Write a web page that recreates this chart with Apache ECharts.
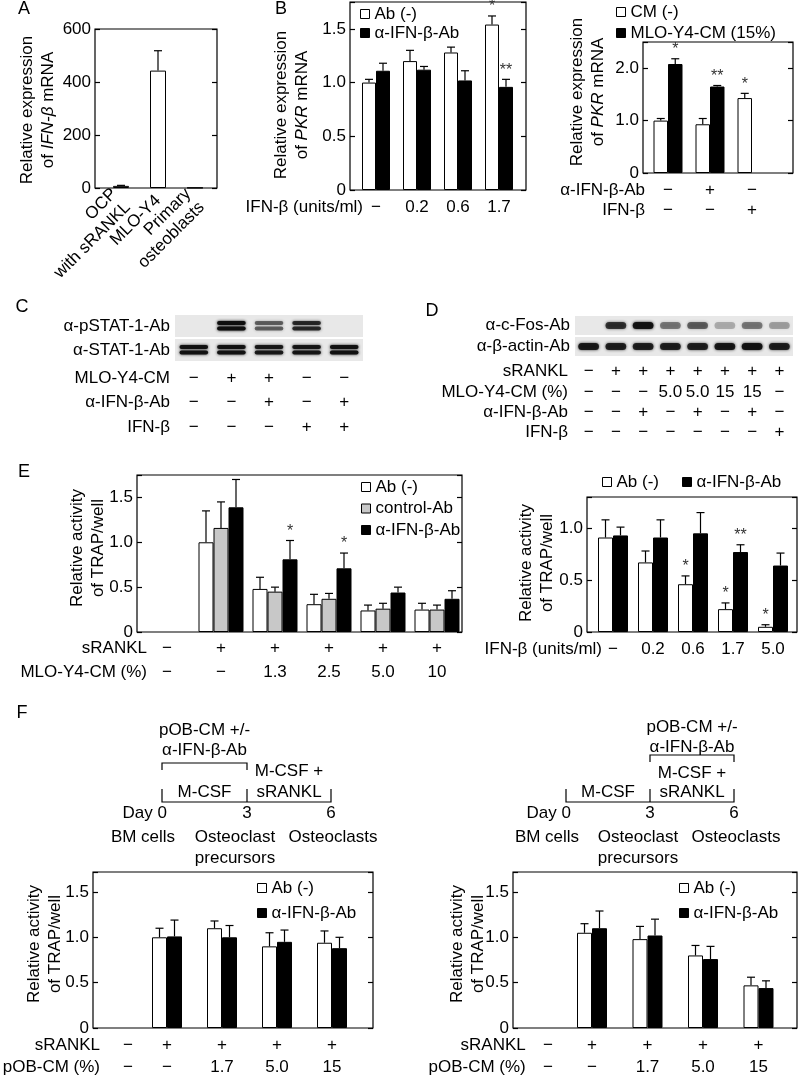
<!DOCTYPE html>
<html>
<head>
<meta charset="utf-8">
<script src="https://cdn.jsdelivr.net/npm/echarts@6/dist/echarts.min.js"></script>
<style>html,body{margin:0;background:#fff}#fig{width:800px;height:1077px}</style>
</head>
<body>
<div id="fig"></div>
<script>
const FONT = '"Liberation Sans", Arial, Helvetica, sans-serif';
const FS = 17;

// ---- A: IFN-beta mRNA per cell type
const aCells = ['OCP\nwith sRANKL', 'MLO-Y4', 'Primary\nosteoblasts'];
const aIfnb = [8, 443, 1];
const aIfnbErr = [10, 518, null];

// ---- B left: PKR vs IFN-beta dose
const bDose = ['−', '0.2', '0.6', '1.7'];
const bAbNeg = [1.00, 1.20, 1.28, 1.54];
const bAbNegErr = [1.03, 1.30, 1.33, 1.62];
const bAbNegStar = ['', '', '', '*'];
const bAnti = [1.11, 1.12, 1.02, 0.96];
const bAntiErr = [1.18, 1.15, 1.11, 1.03];
const bAntiStar = ['', '', '', '**'];

// ---- B right: PKR with MLO-Y4-CM
const bcAntiAb = ['−', '+', '−'];
const bcIfnb = ['−', '−', '+'];
const bcCmNeg = [1.00, 0.93, 1.43];
const bcCmNegErr = [1.04, 1.04, 1.52];
const bcCmNegStar = ['', '', '*'];
const bcMlo = [2.08, 1.65, null];
const bcMloErr = [2.18, 1.67, null];
const bcMloStar = ['*', '**', ''];

// ---- C: blot (band intensity per lane)
const cRows = ['α-pSTAT-1-Ab', 'α-STAT-1-Ab'];
const cPstat = [0, 1.0, 0.55, 0.8, 0];
const cStat = [0.95, 0.95, 0.9, 0.92, 0.97];
const cMlo = ['−', '+', '+', '−', '−'];
const cAntiAb = ['−', '−', '+', '−', '+'];
const cIfnb = ['−', '−', '−', '+', '+'];

// ---- D: blot
const dRows = ['α-c-Fos-Ab', 'α-β-actin-Ab'];
const dCfos = [0, 0.75, 0.95, 0.45, 0.55, 0.25, 0.45, 0.3];
const dActin = [0.9, 0.85, 0.85, 0.85, 0.85, 0.9, 0.95, 0.85];
const dRankl = ['−', '+', '+', '+', '+', '+', '+', '+'];
const dMlo = ['−', '−', '−', '5.0', '5.0', '15', '15', '−'];
const dAntiAb = ['−', '−', '+', '−', '+', '−', '+', '−'];
const dIfnb = ['−', '−', '−', '−', '−', '−', '−', '+'];

// ---- E left: TRAP with MLO-Y4-CM
const eRankl = ['−', '+', '+', '+', '+', '+'];
const eMlo = ['−', '−', '1.3', '2.5', '5.0', '10'];
const eAbNeg = [null, 1.00, 0.48, 0.31, 0.24, 0.25];
const eAbNegErr = [null, 1.35, 0.61, 0.42, 0.30, 0.32];
const eCtrl = [null, 1.16, 0.45, 0.37, 0.26, 0.25];
const eCtrlErr = [null, 1.45, 0.50, 0.43, 0.32, 0.30];
const eAnti = [null, 1.39, 0.81, 0.71, 0.44, 0.37];
const eAntiErr = [null, 1.70, 1.02, 0.88, 0.50, 0.46];
const eAntiStar = ['', '', '*', '*', '', ''];

// ---- E right: TRAP vs IFN-beta dose
const erDose = ['−', '0.2', '0.6', '1.7', '5.0'];
const erAbNeg = [0.91, 0.67, 0.46, 0.22, 0.05];
const erAbNegErr = [1.08, 0.78, 0.54, 0.28, 0.07];
const erAbNegStar = ['', '', '*', '*', '*'];
const erAnti = [0.93, 0.91, 0.95, 0.77, 0.64];
const erAntiErr = [1.01, 1.08, 1.15, 0.84, 0.76];
const erAntiStar = ['', '', '', '**', ''];

// ---- F: TRAP with pOB-CM
const fRankl = ['−', '+', '+', '+', '+'];
const fPob = ['−', '−', '1.7', '5.0', '15'];
const f1AbNeg = [null, 1.00, 1.10, 0.90, 0.94];
const f1AbNegErr = [null, 1.10, 1.18, 1.05, 1.07];
const f1Anti = [null, 1.01, 1.00, 0.95, 0.88];
const f1AntiErr = [null, 1.19, 1.13, 1.08, 1.00];
const f2AbNeg = [null, 1.05, 0.98, 0.80, 0.47];
const f2AbNegErr = [null, 1.15, 1.12, 0.91, 0.56];
const f2Anti = [null, 1.10, 1.02, 0.76, 0.44];
const f2AntiErr = [null, 1.29, 1.20, 0.90, 0.52];

const WHITE = '#ffffff', GREY = '#c8c8c8', BLACK = '#000000';
const txt = { fontFamily: FONT, fontSize: FS, color: '#000' };

const option = {
  animation: false,
  textStyle: { fontFamily: FONT, fontSize: FS, color: '#000' },
  grid: [], xAxis: [], yAxis: [], series: [], legend: [], graphic: []
};

// frame with y ticks (left labels, ticks inside both sides)
function addFrame(f) {
  const gi = option.grid.length;
  option.grid.push({ left: f.left, top: f.top, width: f.width, height: f.height, show: true,
    borderColor: '#000', borderWidth: 1.2, backgroundColor: 'rgba(0,0,0,0)', outerBoundsMode: 'none' });
  option.xAxis.push({ gridIndex: gi, type: 'value', show: false, min: 0, max: 1 });
  const fmt = f.fmt || (v => v === 0 ? '0' : v.toFixed(1));
  const y = {
    gridIndex: gi, type: 'value', min: 0, max: f.max, interval: f.step,
    axisLine: { show: false }, splitLine: { show: false },
    axisTick: { show: true, inside: true, length: 5, lineStyle: { color: '#000', width: 1.2 } }
  };
  option.yAxis.push({ ...y, position: 'left',
    axisLabel: { ...txt, margin: 4,
      formatter: v => Math.abs(v / f.step - Math.round(v / f.step)) > 1e-6 ? '' : fmt(v) } });
  option.yAxis.push({ ...y, position: 'right', axisLabel: { show: false } });
}

function errorBar(params, api, off, stars) {
  const v = api.value(1), e = api.value(2);
  if (isNaN(v) || isNaN(e)) return null;
  const base = api.coord([api.value(0), v]);
  const top = api.coord([api.value(0), e]);
  const x = base[0] + off;
  const children = [
    { type: 'line', shape: { x1: x, y1: base[1], x2: x, y2: top[1] }, style: { stroke: '#000', lineWidth: 1.2 } },
    { type: 'line', shape: { x1: x - 4, y1: top[1], x2: x + 4, y2: top[1] }, style: { stroke: '#000', lineWidth: 1.2 } }
  ];
  const star = stars && stars[params.dataIndex];
  if (star) {
    children.push({ type: 'text', x: x, y: top[1] - 1,
      style: { text: star, fontFamily: FONT, fontSize: 16, fill: '#333', align: 'center', verticalAlign: 'bottom' } });
  }
  return { type: 'group', children };
}

function addRows(gi, rows, nameGap, firstShift) {
  rows.forEach(r => option.xAxis.push({
    gridIndex: gi, type: 'category', data: r.labels, position: 'bottom', offset: r.offset,
    axisLine: { show: false, onZero: false }, axisTick: { show: false }, splitLine: { show: false },
    axisLabel: { ...txt, margin: 0, verticalAlign: 'middle', interval: 0,
      formatter: (v, i) => (i === 0 && firstShift ? '{s|' + v + '}' : v),
      rich: { s: { ...txt, padding: [0, 0, 0, 2 * (firstShift || 0)] } } },
    name: r.title, nameLocation: 'start', nameGap: nameGap,
    nameTextStyle: { ...txt, align: 'right', verticalAlign: 'middle' }
  }));
}

function addBars(c) {
  const gi = option.grid.length;
  option.grid.push({ left: c.left, top: c.top, width: c.width, height: c.height, outerBoundsMode: 'none' });
  const xi = option.xAxis.length;
  option.xAxis.push({ gridIndex: gi, type: 'category', data: c.cats,
    axisLine: { show: false, onZero: false }, axisTick: { show: false }, splitLine: { show: false },
    axisLabel: c.catLabel ? { ...txt, ...c.catLabel } : { show: false } });
  addRows(gi, c.rows || [], c.nameGap, c.firstShift);
  const yi = option.yAxis.length;
  option.yAxis.push({ gridIndex: gi, type: 'value', min: 0, max: c.max, show: false, splitLine: { show: false } });
  const n = c.series.length;
  c.series.forEach((s, k) => {
    option.series.push({ type: 'bar', name: s.name, xAxisIndex: xi, yAxisIndex: yi, data: s.values,
      barWidth: c.barWidth, barGap: '0%', silent: true,
      itemStyle: { color: s.color, borderColor: '#000', borderWidth: 1 } });
    const off = (k - (n - 1) / 2) * c.barWidth;
    option.series.push({ type: 'custom', name: s.name + ' SEM', xAxisIndex: xi, yAxisIndex: yi, z: 3, silent: true,
      data: s.values.map((v, i) => [i, v, s.err[i]]),
      renderItem: (params, api) => errorBar(params, api, off, s.stars) });
  });
}

function band(api, doublet) {
  const k = api.value(2);
  if (!(k > 0.02)) return null;
  const c = api.coord([api.value(0), api.value(1)]);
  const sz = api.size([0, 0]);
  const w = sz[0] * 0.76;
  const fill = 'rgba(15,15,15,' + Math.min(1, k) + ')';
  const rect = (y, h) => ({ type: 'rect', shape: { x: c[0] - w / 2, y: y, width: w, height: h, r: h / 2 },
    style: { fill: fill, shadowBlur: 3, shadowColor: fill } });
  return { type: 'group', children: doublet
    ? [rect(c[1] - 5, 4), rect(c[1] + 0.5, 4)]
    : [rect(c[1] - 3.5, 7)] };
}

function addBlot(b) {
  const gi = option.grid.length;
  option.grid.push({ left: b.left, top: b.top, width: b.width, height: b.height, outerBoundsMode: 'none' });
  const xi = option.xAxis.length;
  option.xAxis.push({ gridIndex: gi, type: 'category', data: b.bands[0].map((v, i) => i), show: false });
  addRows(gi, b.rows, b.nameGap);
  const yi = option.yAxis.length;
  option.yAxis.push({ gridIndex: gi, type: 'category', data: b.names, inverse: true,
    axisLine: { show: false }, axisTick: { show: false }, splitLine: { show: false },
    axisLabel: { ...txt, margin: 5, interval: 0 } });
  option.series.push({ type: 'custom', xAxisIndex: xi, yAxisIndex: yi, silent: true, z: 1,
    data: b.names.map((r, j) => [0, j]),
    renderItem: (params, api) => {
      const cs = params.coordSys;
      const cy = api.coord([0, api.value(1)])[1];
      const h = api.size([0, 0])[1];
      return { type: 'rect', shape: { x: cs.x, y: cy - h / 2 + 1, width: cs.width, height: h - 2 },
        style: { fill: '#e8e8e8' } };
    } });
  b.bands.forEach((vals, j) => option.series.push({
    type: 'custom', xAxisIndex: xi, yAxisIndex: yi, silent: true, z: 3,
    data: vals.map((k, i) => [i, j, k]),
    renderItem: (params, api) => band(api, b.doublet[j]) }));
}

function addLegend(left, top, names, orient, gap) {
  option.legend.push({ left, top, orient, itemGap: gap, itemWidth: 9, itemHeight: 9, icon: 'rect',
    selectedMode: false, padding: 0, data: names, textStyle: { ...txt },
    itemStyle: { borderColor: '#000', borderWidth: 1 } });
}

function text(x, y, str, align, size) {
  option.graphic.push({ type: 'text', x, y, silent: true,
    style: { text: str, fontFamily: FONT, fontSize: size || FS, fill: '#000', align: align || 'center', verticalAlign: 'middle' } });
}

function yTitle(x, y, str) {
  option.graphic.push({ type: 'text', x, y, rotation: Math.PI / 2, silent: true,
    style: { text: str, fontFamily: FONT, fontSize: FS, fill: '#000', align: 'center', verticalAlign: 'middle', lineHeight: 21,
      rich: { i: { fontFamily: FONT, fontSize: FS, fontStyle: 'italic', fill: '#000', lineHeight: 21 } } } });
}

function polyline(points) {
  option.graphic.push({ type: 'polyline', silent: true, shape: { points }, style: { stroke: '#000', lineWidth: 1.2, fill: null } });
}

// ---------- A
addFrame({ left: 95, top: 29, width: 122, height: 159, max: 600, step: 200, fmt: v => String(v) });
addBars({ left: 102.5, top: 29, width: 111, height: 159, max: 600, cats: aCells, barWidth: 16,
  catLabel: { rotate: 45, margin: 10, interval: 0, lineHeight: 19 },
  series: [{ name: 'IFN-β mRNA', values: aIfnb, err: aIfnbErr, color: WHITE }] });
yTitle(38, 110, 'Relative expression\nof {i|IFN-β} mRNA');

// ---------- B left
addFrame({ left: 350, top: 2, width: 176, height: 188, max: 1.75, step: 0.5 });
addBars({ left: 355.5, top: 2, width: 164, height: 188, max: 1.75, cats: bDose, barWidth: 14,
  rows: [{ title: 'IFN-β (units/ml)', labels: bDose, offset: 17 }], nameGap: -7.5,
  series: [
    { name: 'Ab (-)', values: bAbNeg, err: bAbNegErr, stars: bAbNegStar, color: WHITE },
    { name: 'α-IFN-β-Ab', values: bAnti, err: bAntiErr, stars: bAntiStar, color: BLACK }] });
addLegend(360, 5.5, ['Ab (-)', 'α-IFN-β-Ab'], 'vertical', 2);
yTitle(292, 105, 'Relative expression\nof {i|PKR} mRNA');

// ---------- B right
addFrame({ left: 643, top: 42, width: 150, height: 131, max: 2.5, step: 1 });
addBars({ left: 647, top: 42, width: 126, height: 131, max: 2.5, cats: bcAntiAb, barWidth: 14.5,
  rows: [{ title: 'α-IFN-β-Ab', labels: bcAntiAb, offset: 17 }, { title: 'IFN-β', labels: bcIfnb, offset: 37 }], nameGap: 2,
  series: [
    { name: 'CM (-)', values: bcCmNeg, err: bcCmNegErr, stars: bcCmNegStar, color: WHITE },
    { name: 'MLO-Y4-CM (15%)', values: bcMlo, err: bcMloErr, stars: bcMloStar, color: BLACK }] });
addLegend(616, 3.5, ['CM (-)', 'MLO-Y4-CM (15%)'], 'vertical', 4);
yTitle(588, 92, 'Relative expression\nof {i|PKR} mRNA');

// ---------- C
addBlot({ left: 175, top: 314, width: 188, height: 48, names: cRows, bands: [cPstat, cStat], doublet: [true, true],
  rows: [{ title: 'MLO-Y4-CM', labels: cMlo, offset: 16 }, { title: 'α-IFN-β-Ab', labels: cAntiAb, offset: 40 },
    { title: 'IFN-β', labels: cIfnb, offset: 65 }], nameGap: 5 });

// ---------- D
addBlot({ left: 575, top: 315, width: 218, height: 42, names: dRows, bands: [dCfos, dActin], doublet: [false, false],
  rows: [{ title: 'sRANKL', labels: dRankl, offset: 14 }, { title: 'MLO-Y4-CM (%)', labels: dMlo, offset: 35 },
    { title: 'α-IFN-β-Ab', labels: dAntiAb, offset: 55 }, { title: 'IFN-β', labels: dIfnb, offset: 75 }], nameGap: 7 });

// ---------- E left
addFrame({ left: 137, top: 475, width: 325, height: 157, max: 1.75, step: 0.5 });
addBars({ left: 140, top: 475, width: 324, height: 157, max: 1.75, cats: eMlo, barWidth: 15,
  rows: [{ title: 'sRANKL', labels: eRankl, offset: 16 }, { title: 'MLO-Y4-CM (%)', labels: eMlo, offset: 40 }], nameGap: -7,
  series: [
    { name: 'Ab (-)', values: eAbNeg, err: eAbNegErr, color: WHITE },
    { name: 'control-Ab', values: eCtrl, err: eCtrlErr, color: GREY },
    { name: 'α-IFN-β-Ab', values: eAnti, err: eAntiErr, stars: eAntiStar, color: BLACK }] });
addLegend(361, 478.5, ['Ab (-)', 'control-Ab', 'α-IFN-β-Ab'], 'vertical', 4.5);
yTitle(88, 548, 'Relative activity\nof TRAP/well');

// ---------- E right
addFrame({ left: 587, top: 497, width: 210, height: 135, max: 1.3, step: 0.5 });
addBars({ left: 593, top: 497, width: 200, height: 135, max: 1.3, cats: erDose, barWidth: 15,
  rows: [{ title: 'IFN-β (units/ml)', labels: erDose, offset: 17 }], nameGap: -9,
  series: [
    { name: 'Ab (-)', values: erAbNeg, err: erAbNegErr, stars: erAbNegStar, color: WHITE },
    { name: 'α-IFN-β-Ab', values: erAnti, err: erAntiErr, stars: erAntiStar, color: BLACK }] });
addLegend(602, 473.5, ['Ab (-)', 'α-IFN-β-Ab'], 'horizontal', 23);
yTitle(537, 563, 'Relative activity\nof TRAP/well');

// ---------- F left
addFrame({ left: 93, top: 872, width: 280, height: 156, max: 1.72, step: 0.5 });
addBars({ left: 84.5, top: 872, width: 275, height: 156, max: 1.72, cats: fPob, barWidth: 15,
  rows: [{ title: 'sRANKL', labels: fRankl, offset: 17 }, { title: 'pOB-CM (%)', labels: fPob, offset: 39 }],
  nameGap: -15.5, firstShift: 16,
  series: [
    { name: 'Ab (-)', values: f1AbNeg, err: f1AbNegErr, color: WHITE },
    { name: 'α-IFN-β-Ab', values: f1Anti, err: f1AntiErr, color: BLACK }] });
addLegend(257, 879.5, ['Ab (-)', 'α-IFN-β-Ab'], 'vertical', 8);
yTitle(45, 944, 'Relative activity\nof TRAP/well');

// ---------- F right
addFrame({ left: 513, top: 872, width: 284, height: 156, max: 1.72, step: 0.5 });
addBars({ left: 508.75, top: 872, width: 277.5, height: 156, max: 1.72, cats: fPob, barWidth: 15,
  rows: [{ title: 'sRANKL', labels: fRankl, offset: 17 }, { title: 'pOB-CM (%)', labels: fPob, offset: 39 }],
  nameGap: -17, firstShift: 11.5,
  series: [
    { name: 'Ab (-)', values: f2AbNeg, err: f2AbNegErr, color: WHITE },
    { name: 'α-IFN-β-Ab', values: f2Anti, err: f2AntiErr, color: BLACK }] });
addLegend(679, 879.5, ['Ab (-)', 'α-IFN-β-Ab'], 'vertical', 8);
yTitle(468, 944, 'Relative activity\nof TRAP/well');

// ---------- F schematics (culture timelines)
function schedule(x0, x3, x6, bracketY, late, textTopY) {
  polyline([[x0, 789], [x0, 802], [x6, 802], [x6, 789]]);
  polyline([[x3, 789], [x3, 802]]);
  const bx0 = late ? x3 : x0, bx1 = late ? x6 : x3;
  polyline([[bx0, bracketY + 7], [bx0, bracketY], [bx1, bracketY], [bx1, bracketY + 7]]);
  const bc = (bx0 + bx1) / 2;
  text(bc, textTopY, 'pOB-CM +/-');
  text(bc, textTopY + 20, 'α-IFN-β-Ab');
  text((x0 + x3) / 2, 792, 'M-CSF');
  text((x3 + x6) / 2, late ? 773 : 771, 'M-CSF +');
  text((x3 + x6) / 2, 792, 'sRANKL');
  text(x0 + 5, 813, 'Day 0', 'right');
  text(x3, 813, '3');
  text(x6, 813, '6');
  text(x0 - 19, 837, 'BM cells');
  text(x3 - 12, 837, 'Osteoclast');
  text(x3 - 12, 858, 'precursors');
  text(x6 + 2, 837, 'Osteoclasts');
}
schedule(162, 247, 331, 763, false, 730);
schedule(566, 650, 734, 755, true, 727);

// ---------- panel letters
text(24, 9, 'A', 'center', 18);
text(281, 9, 'B', 'center', 18);
text(22, 307, 'C', 'center', 18);
text(432, 311, 'D', 'center', 18);
text(24, 472, 'E', 'center', 18);
text(22, 713, 'F', 'center', 18);

const chart = echarts.init(document.getElementById('fig'));
chart.setOption(option);
window.addEventListener('resize', () => chart.resize());
</script>
</body>
</html>
